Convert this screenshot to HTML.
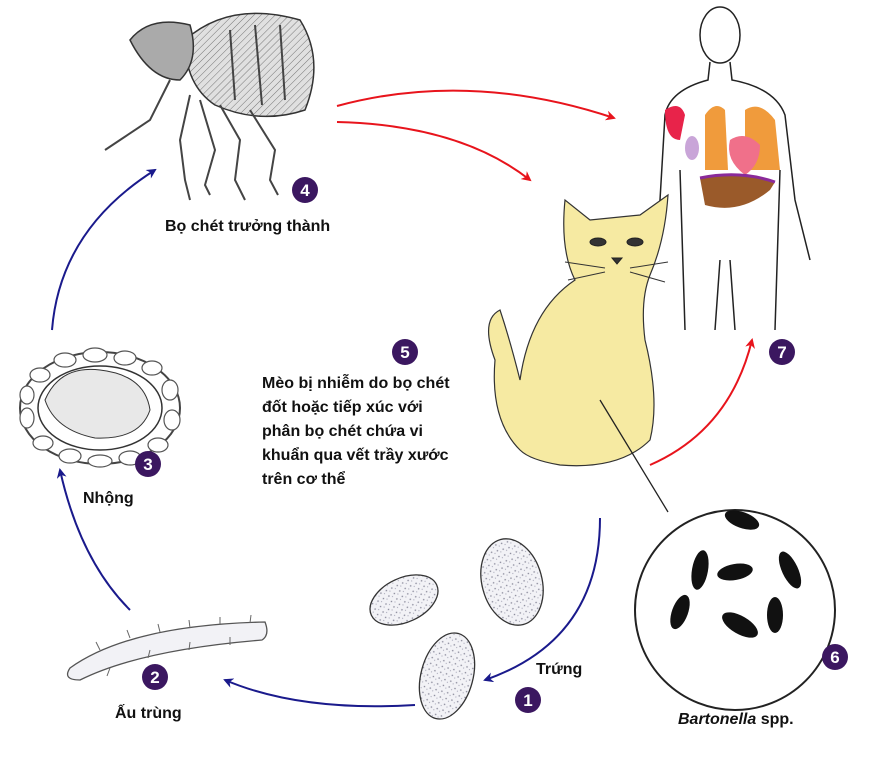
<!DOCTYPE html>
<html><head><meta charset="utf-8"><style>
body{margin:0;background:#fff;width:883px;height:765px;overflow:hidden}
svg{display:block}
text{font-family:"Liberation Sans","DejaVu Sans",sans-serif;font-weight:bold;font-size:16px;fill:#111}
.n{fill:#fff;font-size:17px;text-anchor:middle}
</style></head><body>
<svg width="883" height="765" viewBox="0 0 883 765">
<defs>
<marker id="r" markerWidth="10" markerHeight="10" refX="8" refY="5" orient="auto" markerUnits="userSpaceOnUse"><path d="M0,0 L10,5 L0,10 L3,5z" fill="#e8141c"/></marker>
<marker id="b" markerWidth="10" markerHeight="10" refX="8" refY="5" orient="auto" markerUnits="userSpaceOnUse"><path d="M0,0 L10,5 L0,10 L3,5z" fill="#1a1a8c"/></marker>
<pattern id="dots" width="6" height="6" patternUnits="userSpaceOnUse"><rect width="6" height="6" fill="#f2f2f6"/><circle cx="2" cy="2" r="0.8" fill="#889"/><circle cx="5" cy="4" r="0.6" fill="#aab"/></pattern>
<pattern id="hatch" width="5" height="5" patternUnits="userSpaceOnUse" patternTransform="rotate(45)"><rect width="5" height="5" fill="#e0e0e0"/><line x1="0" y1="0" x2="0" y2="5" stroke="#777" stroke-width="1"/></pattern>
</defs>

<!-- Flea -->
<g stroke="#333" stroke-width="1.5">
<path d="M185,40 Q230,0 300,20 Q325,60 305,110 Q260,125 215,105 Q185,85 185,40z" fill="url(#hatch)"/>
<path d="M130,40 Q150,15 190,25 Q200,60 180,80 Q150,80 130,40z" fill="#aaa"/>
<g fill="none" stroke="#444" stroke-width="2">
<path d="M170,80 L150,120 L120,140 L105,150"/>
<path d="M190,95 L180,140 L185,180 L190,200"/>
<path d="M220,105 L240,140 L235,180 L245,200"/>
<path d="M200,100 L215,150 L205,185 L210,195"/>
<path d="M250,110 L275,150 L270,180 L278,195"/>
<path d="M230,30 L235,100 M255,25 L262,105 M280,25 L285,100"/>
</g></g>
<circle cx="305" cy="190" r="13" fill="#3b1760"/><text x="305" y="196" class="n">4</text>
<text x="165" y="231">Bọ chét trưởng thành</text>

<!-- red arrows -->
<path d="M337,106 Q470,70 614,118" fill="none" stroke="#e8141c" stroke-width="2" marker-end="url(#r)"/>
<path d="M337,122 Q460,125 530,180" fill="none" stroke="#e8141c" stroke-width="2" marker-end="url(#r)"/>
<path d="M650,465 Q730,430 752,340" fill="none" stroke="#e8141c" stroke-width="2" marker-end="url(#r)"/>

<!-- Human -->
<g fill="none" stroke="#222" stroke-width="1.5">
<ellipse cx="720" cy="35" rx="20" ry="28"/>
<path d="M710,62 L708,80 Q670,90 665,115 L660,200 L650,260 M730,62 L732,80 Q775,88 785,115 L795,200 L810,260 M680,170 L685,330 M780,170 L775,330 M720,260 L715,330 M730,260 L735,330"/>
</g>
<path d="M665,110 Q680,100 685,115 L680,140 Q665,140 665,110z" fill="#e8234a"/>
<ellipse cx="692" cy="148" rx="7" ry="12" fill="#c9a5d8"/>
<path d="M705,115 Q715,100 725,110 L728,170 L705,170z" fill="#f09b3c"/>
<path d="M745,110 Q760,100 775,120 L780,170 L745,170z" fill="#f09b3c"/>
<path d="M730,140 Q745,130 760,145 Q760,165 745,175 Q725,160 730,140z" fill="#f0708a"/>
<path d="M700,178 Q740,170 775,182 L770,190 Q740,215 705,205z" fill="#9a5a2a"/>
<path d="M700,178 Q740,170 775,182" fill="none" stroke="#8a2a9a" stroke-width="3"/>
<circle cx="782" cy="352" r="13" fill="#3b1760"/><text x="782" y="358" class="n">7</text>

<!-- Cat -->
<g stroke="#333" stroke-width="1.2" fill="#f6eaa2">
<path d="M520,450 Q490,420 495,360 Q480,320 500,310 Q510,340 520,380 Q530,310 575,280 Q560,250 565,200 L590,220 L640,215 L668,195 Q665,240 650,275 Q640,300 645,340 Q660,400 650,440 Q620,470 560,465 Q530,460 520,450z"/>
</g>
<g stroke="#222" fill="#333"><ellipse cx="598" cy="242" rx="8" ry="4"/><ellipse cx="635" cy="242" rx="8" ry="4"/><path d="M612,258 L622,258 L617,264z"/></g>
<g stroke="#333" stroke-width="1"><path d="M605,268 L565,262 M605,272 L568,280 M630,268 L668,262 M630,272 L665,282"/></g>
<circle cx="405" cy="352" r="13" fill="#3b1760"/><text x="405" y="358" class="n">5</text>
<text x="262" y="388">Mèo bị nhiễm do bọ chét</text>
<text x="262" y="412">đốt hoặc tiếp xúc với</text>
<text x="262" y="436">phân bọ chét chứa vi</text>
<text x="262" y="460">khuẩn qua vết trầy xước</text>
<text x="262" y="484">trên cơ thể</text>

<!-- Bartonella -->
<line x1="600" y1="400" x2="668" y2="512" stroke="#222" stroke-width="1.3"/>
<circle cx="735" cy="610" r="100" fill="#fff" stroke="#222" stroke-width="2"/>
<g fill="#111">
<ellipse cx="742" cy="520" rx="18" ry="8" transform="rotate(20 742 520)"/>
<ellipse cx="700" cy="570" rx="8" ry="20" transform="rotate(10 700 570)"/>
<ellipse cx="735" cy="572" rx="18" ry="8" transform="rotate(-10 735 572)"/>
<ellipse cx="790" cy="570" rx="8" ry="20" transform="rotate(-25 790 570)"/>
<ellipse cx="680" cy="612" rx="8" ry="18" transform="rotate(20 680 612)"/>
<ellipse cx="740" cy="625" rx="20" ry="9" transform="rotate(30 740 625)"/>
<ellipse cx="775" cy="615" rx="8" ry="18"/>
</g>
<circle cx="835" cy="657" r="13" fill="#3b1760"/><text x="835" y="663" class="n">6</text>
<text x="678" y="724" style="font-style:italic">Bartonella <tspan style="font-style:normal">spp.</tspan></text>

<!-- Eggs -->
<g stroke="#333" stroke-width="1.3" fill="url(#dots)">
<ellipse cx="404" cy="600" rx="36" ry="22" transform="rotate(-25 404 600)"/>
<ellipse cx="512" cy="582" rx="30" ry="44" transform="rotate(-15 512 582)"/>
<ellipse cx="447" cy="676" rx="26" ry="44" transform="rotate(15 447 676)"/>
</g>
<text x="536" y="674">Trứng</text>
<circle cx="528" cy="700" r="13" fill="#3b1760"/><text x="528" y="706" class="n">1</text>

<!-- blue arrows -->
<path d="M600,518 Q600,640 485,680" fill="none" stroke="#1a1a8c" stroke-width="2" marker-end="url(#b)"/>
<path d="M415,705 Q300,712 225,680" fill="none" stroke="#1a1a8c" stroke-width="2" marker-end="url(#b)"/>
<path d="M130,610 Q80,560 60,470" fill="none" stroke="#1a1a8c" stroke-width="2" marker-end="url(#b)"/>
<path d="M52,330 Q60,230 155,170" fill="none" stroke="#1a1a8c" stroke-width="2" marker-end="url(#b)"/>

<!-- Larva -->
<path d="M70,668 Q130,625 265,622 Q270,635 262,640 Q140,650 80,680 Q62,680 70,668z" fill="#f2f2f6" stroke="#555" stroke-width="1.3"/>
<g stroke="#666" stroke-width="1"><path d="M100,650 l-4,-8 M130,638 l-3,-8 M160,632 l-2,-8 M190,628 l-1,-8 M220,625 l0,-8 M250,623 l1,-8 M110,668 l-3,8 M150,650 l-2,8 M190,642 l-1,8 M230,637 l0,8"/></g>
<circle cx="155" cy="677" r="13" fill="#3b1760"/><text x="155" y="683" class="n">2</text>
<text x="115" y="718">Ấu trùng</text>

<!-- Pupa -->
<ellipse cx="100" cy="408" rx="80" ry="56" fill="#fff" stroke="#444" stroke-width="2"/>
<g fill="#fff" stroke="#555" stroke-width="1.2">
<ellipse cx="40" cy="375" rx="10" ry="7"/><ellipse cx="65" cy="360" rx="11" ry="7"/><ellipse cx="95" cy="355" rx="12" ry="7"/><ellipse cx="125" cy="358" rx="11" ry="7"/><ellipse cx="152" cy="368" rx="10" ry="7"/><ellipse cx="170" cy="390" rx="8" ry="10"/><ellipse cx="172" cy="420" rx="8" ry="10"/><ellipse cx="158" cy="445" rx="10" ry="7"/><ellipse cx="130" cy="458" rx="11" ry="7"/><ellipse cx="100" cy="461" rx="12" ry="6"/><ellipse cx="70" cy="456" rx="11" ry="7"/><ellipse cx="43" cy="443" rx="10" ry="7"/><ellipse cx="27" cy="418" rx="7" ry="10"/><ellipse cx="27" cy="395" rx="7" ry="9"/>
</g>
<ellipse cx="100" cy="408" rx="62" ry="42" fill="#fff" stroke="#333" stroke-width="1.5"/>
<path d="M45,400 Q60,365 100,370 Q145,375 150,410 Q140,440 95,438 Q55,430 45,400z" fill="#e8e8e8" stroke="#333"/>
<circle cx="148" cy="464" r="13" fill="#3b1760"/><text x="148" y="470" class="n">3</text>
<text x="83" y="503">Nhộng</text>
</svg>
</body></html>
